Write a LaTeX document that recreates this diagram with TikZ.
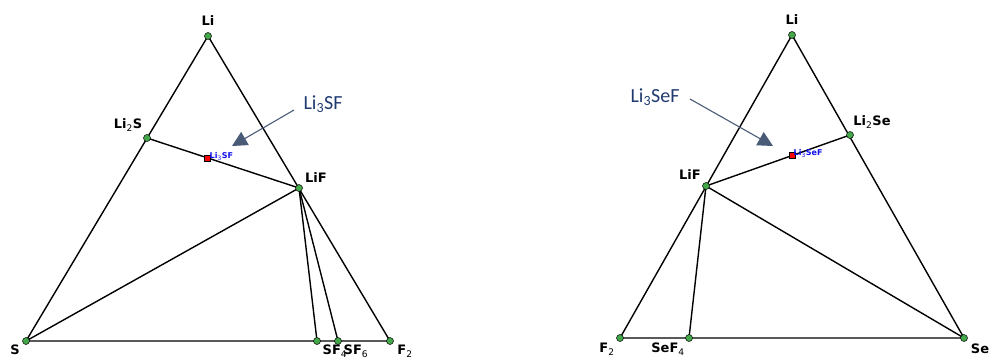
\documentclass[tikz,border=0pt]{standalone}
\usepackage{fontspec}
\setmainfont{DejaVu Sans}
\newfontfamily\callfont{Carlito}
\usetikzlibrary{arrows.meta}
\definecolor{dotgreen}{HTML}{44A84A}
\definecolor{callblue}{HTML}{1F3A70}
\definecolor{callarrow}{HTML}{4A5B78}
\definecolor{tagblue}{HTML}{1010F0}
\tikzset{
  edge/.style={line width=1.4pt, black},
  dot/.style={circle, fill=dotgreen, draw=black, line width=0.5pt, inner sep=0pt, minimum size=7pt},
  phase/.style={font=\bfseries\fontsize{13}{13}\selectfont, inner sep=0pt},
  mark/.style={},
  target/.style={rectangle, fill=red, draw=black, line width=0.5pt, inner sep=0pt, minimum size=5.5pt},
  tag/.style={font=\bfseries\fontsize{8}{8}\selectfont, text=tagblue, inner sep=0pt},
  callout/.style={font=\callfont\fontsize{20}{20}\selectfont, text=callblue, inner sep=0pt},
  pointer/.style={draw=callarrow, line width=1.1pt, -{Triangle[length=15pt,width=15pt]}, callarrow},
}
\newcommand{\subd}[1]{\textsubscript{\mdseries #1}}
\begin{document}
\begin{tikzpicture}[x=1pt,y=-1pt]
\useasboundingbox (0,0) rectangle (990,360);

% ---- Li-S-F triangle ----
\coordinate (aLi) at (208,36);
\coordinate (aS) at (26,341);
\coordinate (aF) at (390,341);
\coordinate (aLiS) at (147,138);
\coordinate (aLiF) at (299,188);
\coordinate (aSF4) at (317,341);
\coordinate (aSF6) at (338,341);

\draw[edge] (aLi) -- (aS) -- (aF) -- cycle;
\draw[edge] (aLiS) -- (aLiF);
\draw[edge] (aS) -- (aLiF);
\draw[edge] (aLiF) -- (aSF4);
\draw[edge] (aLiF) -- (aSF6);

\foreach \p in {aLi,aS,aF,aLiS,aLiF,aSF4,aSF6} \node[dot] at (\p) {};
\node[target] (aT) at (207,158) {};
\node[tag, anchor=west] (aTtag) at (209.5,156.5) {Li\subd{3}SF};

\node[phase] (aLiL) at (208,21) {Li};
\node[phase] (aLiSL) at (128,125) {Li\subd{2}S};
\node[phase] (aLiFL) at (316,178) {LiF};
\node[phase] (aSL) at (15,350) {S};
\node[phase] (aSF4L) at (335,351) {SF\subd{4}};
\node[phase] (aSF6L) at (356,351) {SF\subd{6}};
\node[phase] (aFL) at (405,351) {F\subd{2}};

\node[callout] (aCall) at (323,104) {Li\subd{3}SF};
\coordinate (aTail) at (294,110);
\coordinate (aTip) at (232,146);
\draw[pointer] (aTail) -- (aTip);

% ---- Li-Se-F triangle ----
\coordinate (bLi) at (792,35);
\coordinate (bF) at (620,338);
\coordinate (bSe) at (964,338);
\coordinate (bLiSe) at (850,135);
\coordinate (bLiF) at (706,186);
\coordinate (bSeF4) at (689,338);

\draw[edge] (bLi) -- (bF) -- (bSe) -- cycle;
\draw[edge] (bLiF) -- (bLiSe);
\draw[edge] (bLiF) -- (bSe);
\draw[edge] (bLiF) -- (bSeF4);

\foreach \p in {bLi,bF,bSe,bLiSe,bLiF,bSeF4} \node[dot] at (\p) {};
\node[target] (bT) at (792,155) {};
\node[tag, anchor=west] (bTtag) at (793.5,153.5) {Li\subd{3}SeF};

\node[phase] (bLiL) at (792,20) {Li};
\node[phase] (bLiSeL) at (872,122) {Li\subd{2}Se};
\node[phase] (bLiFL) at (690,175) {LiF};
\node[phase] (bFL) at (607,349) {F\subd{2}};
\node[phase] (bSeF4L) at (668,349) {SeF\subd{4}};
\node[phase] (bSeL) at (980,349) {Se};

\node[callout] (bCall) at (655,97) {Li\subd{3}SeF};
\coordinate (bTail) at (690,99);
\coordinate (bTip) at (773,146);
\draw[pointer] (bTail) -- (bTip);
\end{tikzpicture}
\end{document}
